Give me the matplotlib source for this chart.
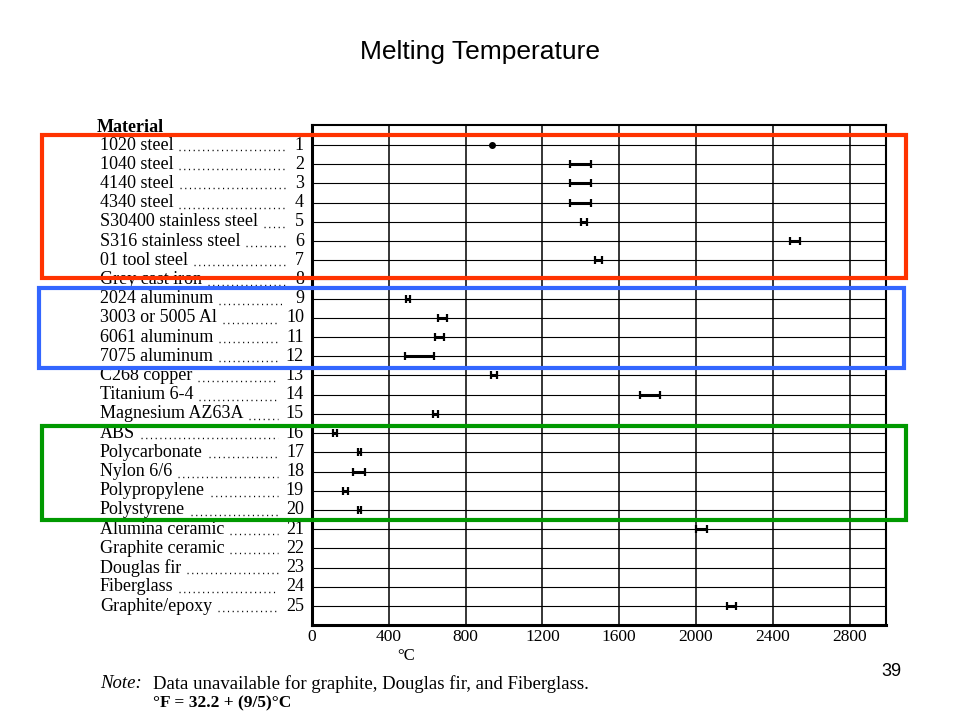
import numpy as np
import matplotlib.pyplot as plt
from matplotlib.patches import Rectangle
from matplotlib.lines import Line2D

# melting ranges (deg C), nan = no data shown
materials = [
    "1020 steel", "1040 steel", "4140 steel", "4340 steel",
    "S30400 stainless steel", "S316 stainless steel", "01 tool steel",
    "Grey cast iron", "2024 aluminum", "3003 or 5005 Al", "6061 aluminum",
    "7075 aluminum", "C268 copper", "Titanium 6-4", "Magnesium AZ63A",
    "ABS", "Polycarbonate", "Nylon 6/6", "Polypropylene", "Polystyrene",
    "Alumina ceramic", "Graphite ceramic", "Douglas fir", "Fiberglass",
    "Graphite/epoxy",
]
melt_low = [940, 1345, 1345, 1345, 1400, 2490, 1475, np.nan, 490, 655, 640,
            485, 930, 1710, 630, 110, 240, 215, 160, 240, 2000, np.nan,
            np.nan, np.nan, 2160]
melt_high = [940, 1455, 1455, 1455, 1430, 2540, 1510, np.nan, 510, 705, 690,
             635, 965, 1815, 655, 130, 255, 275, 190, 255, 2055, np.nan,
             np.nan, np.nan, 2210]
x_ticks = [0, 400, 800, 1200, 1600, 2000, 2400, 2800]

W, H = 960, 720
fig = plt.figure(figsize=(9.6, 7.2), dpi=100)
serif = "Liberation Serif"


def fx(px):
    return px / W


def fy(py):
    return 1 - py / H


ax = fig.add_axes([fx(312), fy(625), fx(886) - fx(312), fy(125) - fy(625)])
ax.set_xlim(0, 2990)
rows = np.arange(1, len(materials) + 1)
ax.set_ylim(25.99, -0.04)

# grid: vertical lines at ticks, horizontal line per material
for t in x_ticks[1:]:
    ax.axvline(t, color="black", lw=1.1, zorder=1)
for r in rows:
    ax.axhline(r, color="black", lw=0.8, zorder=1)

# ranges
for r, lo, hi in zip(rows, melt_low, melt_high):
    if np.isnan(lo):
        continue
    if lo == hi:
        ax.plot(lo, r, "o", color="black", ms=4, zorder=3)
    else:
        ax.plot([lo, hi], [r, r], color="black", lw=2.2, zorder=3,
                solid_capstyle="butt")
        ax.plot([lo, hi], [r, r], "|", color="black", ms=6, mew=1.6, zorder=3)

for side in ["left", "bottom"]:
    ax.spines[side].set_linewidth(2.2)
for side in ["top", "right"]:
    ax.spines[side].set_linewidth(1.5)
ax.set_yticks([])
ax.set_xticks(x_ticks)
ax.set_xticklabels([str(t) for t in x_ticks], fontfamily=serif, fontsize=12.5)
ax.tick_params(axis="x", length=0, pad=3)

# row labels with dot leaders
renderer = fig.canvas.get_renderer()
for r, name in zip(rows, materials):
    y = fy(145 + (r - 1) * 19.21)
    t = fig.text(fx(100), y, name, fontfamily=serif, fontsize=13,
                 ha="left", va="center")
    fig.text(fx(304), y, str(r), fontfamily=serif, fontsize=13,
             ha="right", va="center")
    bb = t.get_window_extent(renderer=renderer)
    x_end = bb.x1 / W + 0.006
    num_x = 0.296 if r >= 10 else 0.303
    if x_end < num_x - 0.005:
        fig.add_artist(Line2D([x_end, num_x - 0.006], [y - 0.007, y - 0.007],
                              color="black", lw=1.0, ls=(0, (0.8, 2.6)),
                              transform=fig.transFigure))

fig.text(fx(97), fy(127), "Material", fontfamily=serif, fontsize=13,
         fontweight="bold", ha="left", va="center")

# axis unit and note
fig.text(fx(406), fy(656), "°C", fontfamily=serif, fontsize=12,
         ha="center", va="center")
fig.text(fx(100), fy(684), "Note:", fontfamily=serif, fontsize=13.5,
         style="italic", ha="left", va="center")
fig.text(fx(153), fy(684), "Data unavailable for graphite, Douglas fir, and Fiberglass.",
         fontfamily=serif, fontsize=13.5, ha="left", va="center")
fig.text(fx(153), fy(703), "°F = 32.2 + (9/5)°C", fontfamily=serif,
         fontsize=12.5, fontweight="bold", ha="left", va="center")

# slide title and page number
fig.text(0.5, fy(52), "Melting Temperature", fontfamily="Liberation Sans",
         fontsize=19, ha="center", va="center")
fig.text(fx(891), fy(672), "39", fontfamily="Liberation Sans", fontsize=13,
         ha="center", va="center")

# highlight boxes
boxes = [(42, 135, 906, 278, "#FF3300"),
         (39, 288, 904, 368, "#3366FF"),
         (42, 426, 906, 520, "#009900")]
for x0, y0, x1, y1, c in boxes:
    fig.add_artist(Rectangle((fx(x0), fy(y1)), fx(x1) - fx(x0), fy(y0) - fy(y1),
                             transform=fig.transFigure, fill=False,
                             edgecolor=c, lw=3, zorder=10))

fig.savefig("out.png", dpi=100)
